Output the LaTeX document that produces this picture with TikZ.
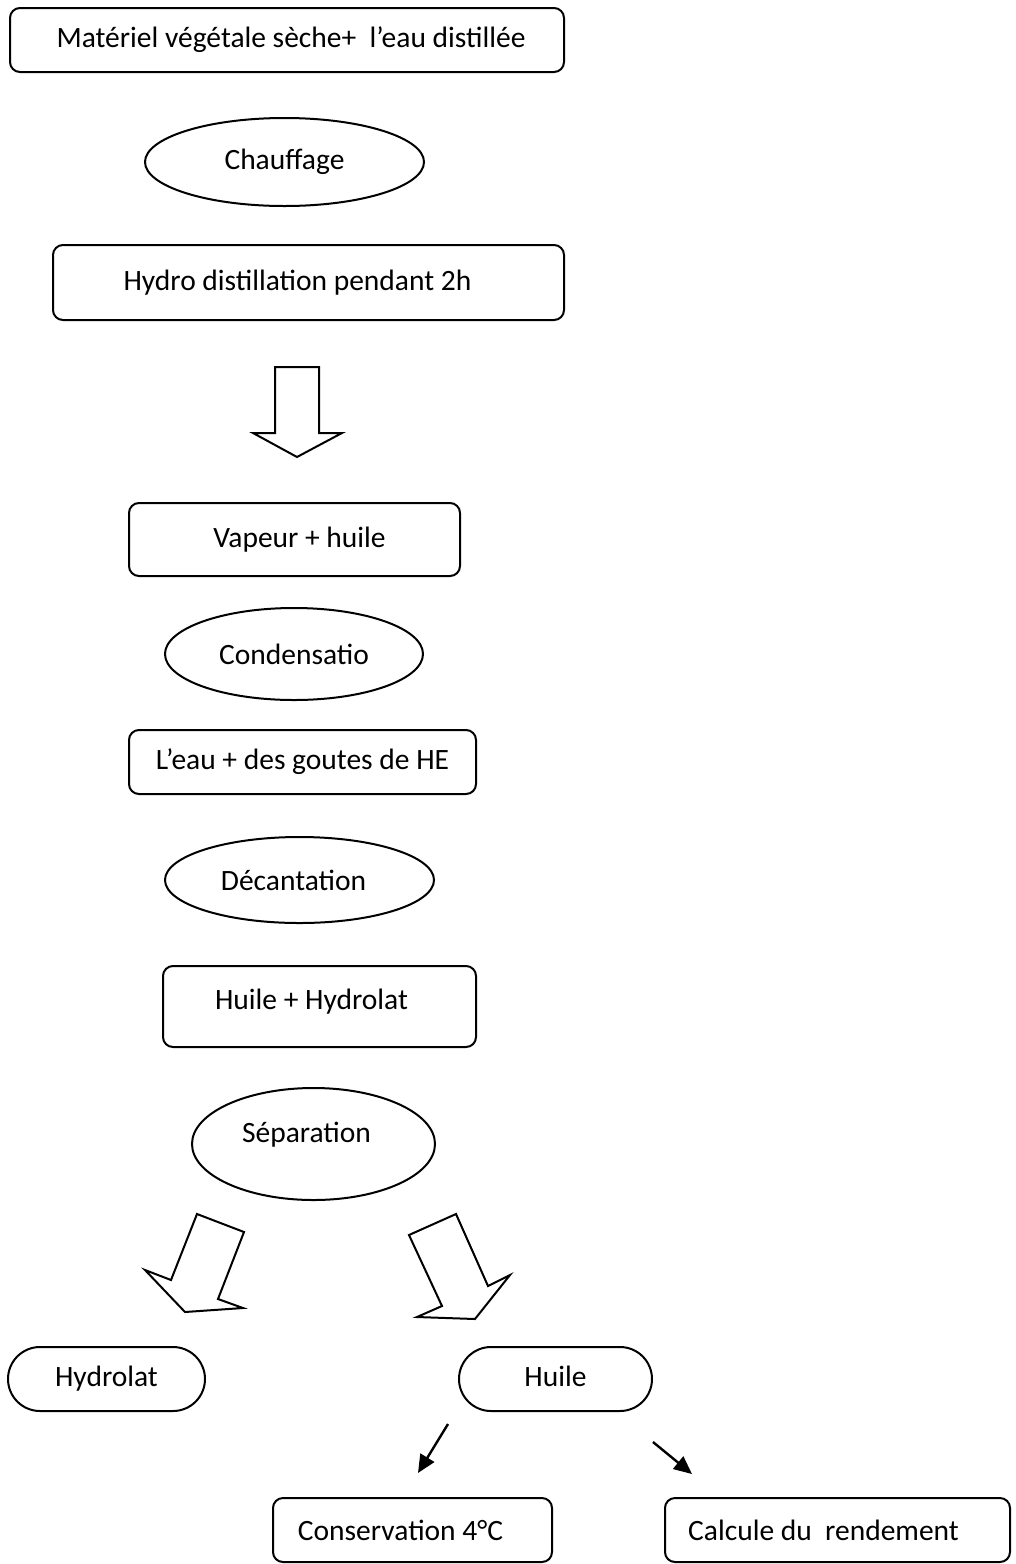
\documentclass[tikz,border=0pt]{standalone}
\usepackage{fontspec}
\setmainfont{Carlito}
\usetikzlibrary{shapes.geometric, arrows.meta}

\begin{document}
\begin{tikzpicture}[x=0.5pt, y=-0.5pt, line width=1pt,
        every node/.style={font=\fontsize{14.75}{17}\selectfont, inner sep=2pt},
        box/.style={draw, rounded corners=5pt},
        oval/.style={draw, ellipse},
        pill/.style={draw, rounded corners=16pt, text height=10.5pt, text depth=3.5pt},
        bigarrow/.style={draw, line join=miter},
        smallarrow/.style={-{Triangle[length=9pt, width=8pt]}, line width=1.2pt}]
        \useasboundingbox (0, 0) rectangle (1016, 1564);

        \node[box, minimum width=277pt, minimum height=32pt] at (287, 40) (mat) {\hspace*{4pt}Matériel végétale sèche+\ \ l’eau distillée};
        \node[oval, minimum width=139.5pt, minimum height=44pt] at (284.5, 162) (chauffage) {Chauffage};
        \node[box, minimum width=255.5pt, minimum height=37.5pt] at (308.5, 282.5) (hydro) {Hydro distillation pendant 2h\hspace*{11pt}};
        \node[box, minimum width=165.5pt, minimum height=36.5pt] at (294.5, 539.5) (vapeur) {\hspace*{5pt}Vapeur + huile};
        \node[oval, minimum width=129pt, minimum height=46pt] at (294, 654) (condens) {Condensatio};
        \node[box, minimum width=173.5pt, minimum height=32pt] at (302.5, 762) (eau) {L’eau + des goutes de HE};
        \node[oval, minimum width=134.5pt, minimum height=43pt] at (299.5, 880) (decant) {Décantation\hspace*{6pt}};
        \node[box, minimum width=156.5pt, minimum height=40.5pt, text depth=7.5pt] at (319.5, 1006.5) (melange) {Huile + Hydrolat\hspace*{8pt}};
        \node[oval, minimum width=121.5pt, minimum height=56pt, text depth=11.5pt] at (313.5, 1144) (separ) {Séparation\hspace*{7pt}};
        \node[pill, minimum width=98.5pt, minimum height=32pt] at (106.5, 1379) (hydrolat) {Hydrolat};
        \node[pill, minimum width=96.5pt, minimum height=32pt] at (555.5, 1379) (huile) {Huile};
        \node[box, minimum width=139.5pt, minimum height=32pt] at (412.5, 1530) (conserv) {Conservation 4°C\hspace*{12pt}};
        \node[box, minimum width=172.5pt, minimum height=32pt] at (837.5, 1530) (rendement) {Calcule du\ \ rendement\hspace*{14pt}};

        % block arrows
        \draw[bigarrow] (275, 367) -- (319, 367) -- (319, 433) -- (342, 433) -- (297, 457) -- (253, 433) -- (275, 433) -- cycle;
        \draw[bigarrow] (197, 1214) -- (244, 1232) -- (218, 1299) -- (243, 1308) -- (185, 1312) -- (145, 1270) -- (171, 1280) -- cycle;
        \draw[bigarrow] (456, 1214) -- (409, 1235) -- (442, 1306) -- (417, 1317) -- (475, 1319) -- (510, 1275) -- (488, 1286) -- cycle;

        % small arrows under Huile
        \coordinate (froma) at (448, 1424);
        \coordinate (toa) at (418, 1473);
        \coordinate (fromb) at (653, 1442);
        \coordinate (tob) at (692, 1474);
        \draw[smallarrow] (froma) -- (toa);
        \draw[smallarrow] (fromb) -- (tob);
    \end{tikzpicture}
\end{document}
